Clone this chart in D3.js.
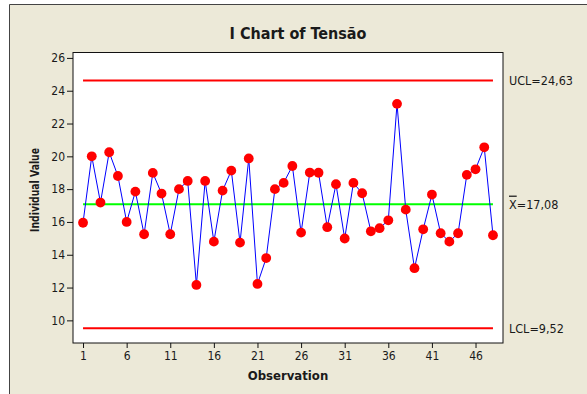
<!DOCTYPE html>
<html>
<head>
<meta charset="utf-8">
<script src="https://cdn.jsdelivr.net/npm/d3@7"></script>
<style>
	body { margin: 0; background: #fff; }
	svg text { font-family: "DejaVu Sans Condensed", "DejaVu Sans", sans-serif; fill: #1a1a1a; }
</style>
</head>
<body>
<svg id="chart" width="587" height="394"></svg>
<script>
// Tensão, individual observations
const observations = d3.range(1, 49)
const tensao = [
	15.95, 20.0, 17.18, 20.25, 18.8, 16.0, 17.85, 15.25, 18.99, 17.73,
	15.25, 18.0, 18.5, 12.16, 18.5, 14.8, 17.91, 19.13, 14.74, 19.87,
	12.22, 13.8, 18.0, 18.38, 19.41, 15.35, 19.01, 19.0, 15.68, 18.3,
	14.99, 18.38, 17.75, 15.43, 15.62, 16.1, 23.2, 16.75, 13.18, 15.55,
	17.67, 15.31, 14.8, 15.31, 18.87, 19.21, 20.55, 15.19,
]
const limits = [
	{ key: "ucl", value: 24.63, label: "UCL=24,63" },
	{ key: "mean", value: 17.08, label: "=17,08" },
	{ key: "lcl", value: 9.52, label: "LCL=9,52" },
]
const xTicks = [1, 6, 11, 16, 21, 26, 31, 36, 41, 46]
const yTicks = [10, 12, 14, 16, 18, 20, 22, 24, 26]

const plot = { left: 73, right: 503, top: 52.5, bottom: 343 }

const svg = d3.select("#chart")

// panel background, only framed on top and left
svg.append("rect")
	.attr("x", 9).attr("y", 4)
	.attr("width", 578).attr("height", 390)
	.attr("fill", "#ECE9D8")
svg.append("path")
	.attr("d", "M9.5,394V4.5H587")
	.attr("fill", "none")
	.attr("stroke", "#444")

const x = d3.scaleLinear()
	.domain([-0.15, 49.15])
	.range([plot.left, plot.right])
const y = d3.scaleLinear()
	.domain([8.62, 26.33])
	.range([plot.bottom, plot.top])

svg.append("rect")
	.attr("x", plot.left).attr("y", plot.top)
	.attr("width", plot.right - plot.left)
	.attr("height", plot.bottom - plot.top)
	.attr("fill", "#fff")
	.attr("stroke", "#111")

// axes
const xAxis = svg.append("g")
	.attr("transform", `translate(0, ${plot.bottom})`)
	.call(d3.axisBottom(x).tickValues(xTicks).tickSize(5).tickPadding(3))
const yAxis = svg.append("g")
	.attr("transform", `translate(${plot.left}, 0)`)
	.call(d3.axisLeft(y).tickValues(yTicks).tickSize(6).tickPadding(2))
for (const axis of [xAxis, yAxis]) {
	axis.select(".domain").remove()
	axis.selectAll("line").attr("stroke", "#111")
	axis.selectAll("text")
		.style("font-size", "12px")
		.attr("fill", "#1a1a1a")
}

// control limits and centre line
const limitColour = { ucl: "#FF0000", mean: "#00FF00", lcl: "#FF0000" }
svg.append("g")
	.selectAll("line")
	.data(limits)
	.join("line")
	.attr("x1", x(1))
	.attr("x2", x(48))
	.attr("y1", d => y(d.value))
	.attr("y2", d => y(d.value))
	.attr("stroke", d => limitColour[d.key])
	.attr("stroke-width", 2)

const limitText = svg.append("g")
	.selectAll("text")
	.data(limits)
	.join("text")
	.attr("x", 509)
	.attr("y", d => y(d.value))
	.attr("dy", "0.35em")
	.style("font-size", "12.5px")
limitText.filter(d => d.key === "mean")
	.append("tspan")
	.text("X")
	.style("text-decoration", "overline")
limitText.append("tspan")
	.text(d => d.label)

// data series
const line = d3.line()
	.x((d, i) => x(observations[i]))
	.y(d => y(d))
svg.append("path")
	.datum(tensao)
	.attr("d", line)
	.attr("fill", "none")
	.attr("stroke", "#0000FF")
	.attr("stroke-width", 1)

svg.append("g")
	.selectAll("circle")
	.data(tensao)
	.join("circle")
	.attr("cx", (d, i) => x(observations[i]))
	.attr("cy", d => y(d))
	.attr("r", 4.9)
	.attr("fill", "#FF0000")

// titles
svg.append("text")
	.attr("x", 298)
	.attr("y", 39)
	.attr("text-anchor", "middle")
	.style("font-size", "16px")
	.style("font-weight", "bold")
	.text("I Chart of Tensão")
svg.append("text")
	.attr("x", 288)
	.attr("y", 380)
	.attr("text-anchor", "middle")
	.style("font-size", "13px")
	.style("font-weight", "bold")
	.text("Observation")
svg.append("text")
	.attr("transform", "translate(38.5, 190) rotate(-90)")
	.attr("text-anchor", "middle")
	.attr("textLength", 84)
	.attr("lengthAdjust", "spacingAndGlyphs")
	.style("font-size", "12.5px")
	.style("font-weight", "bold")
	.text("Individual Value")
</script>
</body>
</html>
